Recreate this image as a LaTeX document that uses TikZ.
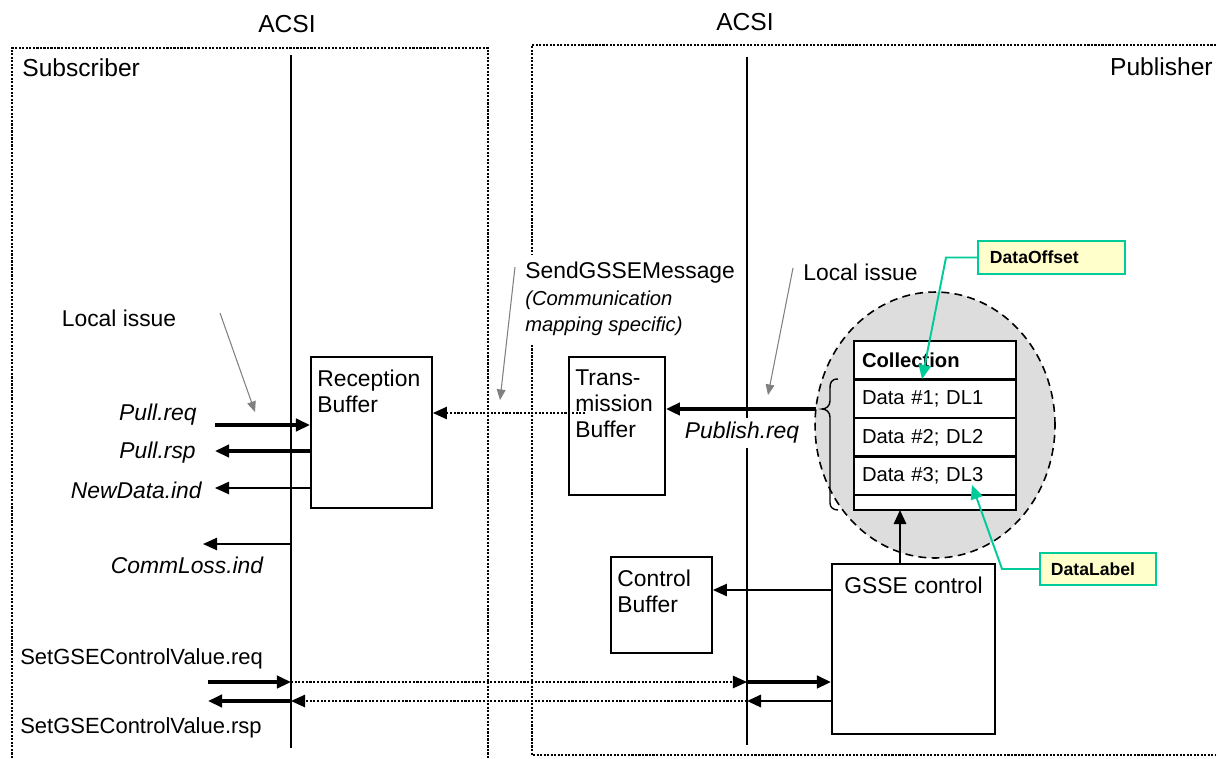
\documentclass[tikz,border=0pt]{standalone}
\usepackage{fontspec}
\setmainfont{Liberation Sans}
\usetikzlibrary{positioning,arrows.meta,shapes.geometric}

\definecolor{callgreen}{RGB}{0,204,153}
\definecolor{callyellow}{RGB}{255,255,204}
\definecolor{groupgray}{RGB}{221,221,221}

\newcommand\cmt[1]{{\fontsize{11.5}{14.2}\selectfont\itshape #1}}

\tikzset{
  txt/.style={font=\fontsize{13}{15}\selectfont, inner sep=0pt},
  itx/.style={txt, font=\fontsize{13}{15}\selectfont\itshape},
  hdr/.style={txt, font=\fontsize{14}{16}\selectfont},
  frame/.style={line width=1.1pt, dash pattern=on 1.2pt off 0.8pt},
  acsi/.style={line width=1.1pt},
  buf/.style={draw, line width=1.1pt, anchor=north west, inner sep=0pt},
  boxtxt/.style={txt, anchor=north west, align=left, inner xsep=4pt, inner ysep=7.5pt},
  row/.style={draw, fill=white, line width=1.2pt, text width=2.92cm, inner xsep=0.16cm,
    inner ysep=0pt, outer sep=0pt, minimum height=0.77cm, align=left, font=\fontsize{11.5}{13}\selectfont},
  group/.style={ellipse, draw, fill=groupgray, line width=0.9pt, dash pattern=on 4.5pt off 3pt, inner sep=0pt},
  sig/.style={-{Triangle[length=8pt,width=7pt]}, line width=1pt},
  bigsig/.style={sig, line width=1.9pt},
  medsig/.style={sig, line width=1.4pt},
  msg/.style={sig, line width=1pt, dash pattern=on 1.2pt off 0.9pt},
  note/.style={-{Triangle[length=6pt,width=5pt]}, line width=0.6pt, gray},
  call/.style={draw=callgreen, fill=callyellow, line width=1.1pt, anchor=north west, align=left,
    font=\fontsize{10}{12}\selectfont\bfseries},
  callln/.style={-{Triangle[length=8pt,width=7pt]}, callgreen, line width=1.1pt},
}

\begin{document}
\begin{tikzpicture}[x=0.02cm,y=-0.02cm]
\useasboundingbox (0,0) rectangle (1216,758);

% the two sides
\draw[frame] (12,758) -- (12,48) -- (488,48) -- (488,758);
\draw[frame] (1216,45) -- (532,45) -- (532,755) -- (1216,755);
\node[hdr] (acsil) at (287,24) {ACSI};
\node[hdr] (acsir) at (745,22) {ACSI};
\node[hdr, anchor=west] (sub) at (22,68) {Subscriber};
\node[hdr, anchor=east] (pub) at (1213,67) {Publisher};

\coordinate (acl) at (291,55);
\coordinate (acr) at (747,57);
\draw[acsi] (acl) -- (acl |- 0,748);
\draw[acsi] (acr) -- (acr |- 0,745);

% buffers
\node[buf, minimum width=2.42cm, minimum height=3.02cm] (rb) at (310,356) {};
\node[boxtxt] (rbt) at (rb.north west) {Reception\\Buffer};
\node[buf, minimum width=1.92cm, minimum height=2.76cm] (tb) at (568,356) {};
\node[boxtxt] (tbt) at (tb.north west) {Trans-\\mission\\Buffer};
\node[buf, minimum width=2.02cm, minimum height=1.92cm] (cb) at (610,556) {};
\node[boxtxt] (cbt) at (cb.north west) {Control\\Buffer};
\node[buf, minimum width=3.26cm, minimum height=3.4cm] (gc) at (831,563) {};
\node[txt, below=7.5pt of gc.north] (gct) {GSSE control};

% collection
\node[group, minimum width=4.8cm, minimum height=5.32cm] (grp) at (935,425) {};
\node[row, anchor=north west] (col) at (854,341) {\textbf{Collection}};
\node[row, below=0pt of col] (d1) {Data \#1; DL1};
\node[row, below=0pt of d1] (d2) {Data \#2; DL2};
\node[row, below=0pt of d2] (d3) {Data \#3; DL3};
\node[row, below=0pt of d3, minimum height=0.3cm] (dend) {};
\draw[line width=0.8pt] (838,379) .. controls (831,379) and (830,383) .. (830,388) -- (830,401)
  .. controls (830,406) and (826,409) .. (822,409) .. controls (826,409) and (830,412) .. (830,417)
  -- (830,503) .. controls (830,507) and (833,510) .. (838,510);

% texts
\node[txt] (li1) at (119,318) {Local issue};
\node[txt, anchor=west] (li2) at (803,272) {Local issue};
\node[txt, anchor=north west, align=left, fill=white, inner sep=4pt] (sgm) at (518,255)
  {SendGSSEMessage\\\cmt{(Communication}\\\cmt{mapping specific)}};
\node[itx, fill=white, inner sep=2.6pt] (preql) at (742,433) {Publish.req};
\node[itx, anchor=east] (pqr) at (197,415) {Pull.req};
\node[itx, anchor=east] (prs) at (196,453) {Pull.rsp};
\node[itx, anchor=east] (ndl) at (202,490) {NewData.ind};
\node[itx] (cll) at (187,565) {CommLoss.ind};
\node[txt, font=\fontsize{12.5}{14}\selectfont, anchor=west] (sreql) at (20,659) {SetGSEControlValue.req};
\node[txt, font=\fontsize{12.5}{14}\selectfont, anchor=west] (srspl) at (20,728) {SetGSEControlValue.rsp};

% notes
\coordinate (n1a) at (220,313); \coordinate (n1b) at (255,412);
\draw[note] (n1a) -- (n1b);
\coordinate (n2a) at (515,267); \coordinate (n2b) at (500,400);
\draw[note] (n2a) -- (n2b);
\coordinate (n3a) at (793,268); \coordinate (n3b) at (768,395);
\draw[note] (n3a) -- (n3b);

% subscriber side
\coordinate (preq) at (215,425);
\draw[bigsig] (preq) -- (preq -| rb.west);
\coordinate (prsp) at (215,451);
\draw[bigsig] (prsp -| rb.west) -- (prsp);
\coordinate (ndi) at (215,488);
\draw[sig] (ndi -| rb.west) -- (ndi);
\coordinate (cli) at (203,544);
\draw[sig] (cli -| acl) -- (cli);

% publisher side
\coordinate (txs) at (585,413);
\draw[msg] (txs) -- (txs -| rb.east);
\coordinate (pubs) at (816,409);
\draw[bigsig] (pubs) -- (pubs -| tb.east);
\coordinate (ctl) at (831,590);
\draw[sig] (ctl) -- (ctl -| cb.east);
\coordinate (upb) at (900,563);
\draw[sig, line width=1.2pt] (upb) -- (upb |- dend.south);

% control values
\coordinate (sreq) at (208,682);
\coordinate (srsp) at (208,701);
\draw[bigsig] (sreq) -- (sreq -| acl);
\draw[msg] (sreq -| acl) -- (sreq -| acr);
\draw[bigsig] (sreq -| acr) -- (sreq -| gc.west);
\draw[medsig] (srsp -| gc.west) -- (srsp -| acr);
\draw[msg] (srsp -| acr) -- (srsp -| acl);
\draw[bigsig] (srsp -| acl) -- (srsp);

% callouts
\node[call, minimum width=2.94cm, minimum height=0.66cm, text width=2.46cm, inner xsep=0.24cm] (doff) at (977,240) {DataOffset};
\node[call, minimum width=2.32cm, minimum height=0.64cm, text width=1.88cm, inner xsep=0.22cm] (dlab) at (1039,552) {DataLabel};
\coordinate (dotip) at (922,379);
\draw[callln] (doff.west) -- ++(-31,0) -- (dotip);
\coordinate (dltip) at (972,485);
\draw[callln] (dlab.west) -- ++(-37,0) -- (dltip);
\end{tikzpicture}
\end{document}
